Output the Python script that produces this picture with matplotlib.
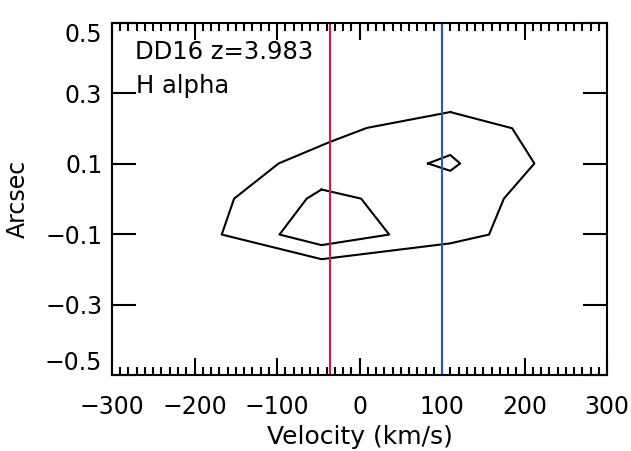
import matplotlib
matplotlib.use("Agg")
import matplotlib.pyplot as plt
from matplotlib.ticker import FixedLocator, MultipleLocator

# ---- data ----
outer_vel = [110, 185, 212, 175, 157, 110, -46, -167, -152, -98, -36, 9, 110]
outer_arc = [0.247, 0.201, 0.101, 0.001, -0.101, -0.126, -0.171, -0.101, 0.001, 0.101, 0.162, 0.202, 0.247]

inner_vel = [-46, -64, -97, -46, 36, 2, -46]
inner_arc = [0.027, 0.001, -0.101, -0.131, -0.101, 0.001, 0.027]

peak_vel = [83, 110, 122, 110, 83]
peak_arc = [0.101, 0.125, 0.101, 0.080, 0.101]

red_line_vel = -35.5
blue_line_vel = 100

x_ticks = [-300, -200, -100, 0, 100, 200, 300]
x_labels = ["\u2212300", "\u2212200", "\u2212100", "0", "100", "200", "300"]
y_ticks = [-0.5, -0.3, -0.1, 0.1, 0.3, 0.5]
y_labels = ["\u22120.5", "\u22120.3", "\u22120.1", "0.1", "0.3", "0.5"]

title_text = "DD16 z=3.983"
line_text = "H alpha"
x_title = "Velocity (km/s)"
y_title = "Arcsec"

# ---- figure ----
plt.rcParams['font.family'] = ['DejaVu Sans']
fig = plt.figure(figsize=(6.31, 4.51), dpi=100)
ax = fig.add_axes([112/631, 1-375/451, (607-112)/631, (375-23)/451])

lw = 1.5
ax.plot(outer_vel, outer_arc, color='black', lw=lw)
ax.plot(inner_vel, inner_arc, color='black', lw=lw)
ax.plot(peak_vel, peak_arc, color='black', lw=lw)
ax.axvline(red_line_vel, color='#d8144c', lw=lw)
ax.axvline(blue_line_vel, color='#2456c4', lw=lw)

ax.set_xlim(-300, 300)
ax.set_ylim(-0.5, 0.5)

for s in ax.spines.values():
    s.set_linewidth(lw)

ax.xaxis.set_major_locator(FixedLocator(x_ticks))
ax.xaxis.set_minor_locator(MultipleLocator(10))
ax.set_xticklabels(x_labels)
ax.yaxis.set_major_locator(FixedLocator(y_ticks))
ax.set_yticklabels(y_labels)

fs_tick = 17
ax.tick_params(axis='x', which='major', direction='in', length=12.5, width=lw,
               top=True, bottom=True, labelsize=fs_tick, pad=14.5)
ax.tick_params(axis='x', which='minor', direction='in', length=5.8, width=lw,
               top=True, bottom=True)
ax.tick_params(axis='y', which='major', direction='in', length=17.5, width=lw,
               left=True, right=True, labelsize=fs_tick, pad=7)
ax.tick_params(axis='y', which='minor', left=False, right=False)

ylabs = ax.get_yticklabels()
ylabs[0].set_verticalalignment('bottom')
ylabs[-1].set_verticalalignment('top')

ax.set_xlabel(x_title, fontsize=18, labelpad=4)
ax.set_ylabel(y_title, fontsize=17, labelpad=11)

ax.text(0.046, 0.898, title_text, transform=ax.transAxes, fontsize=17.5,
        ha='left', va='baseline')
ax.text(0.048, 0.801, line_text, transform=ax.transAxes, fontsize=17.5,
        ha='left', va='baseline')

fig.savefig("out.png", dpi=100)
